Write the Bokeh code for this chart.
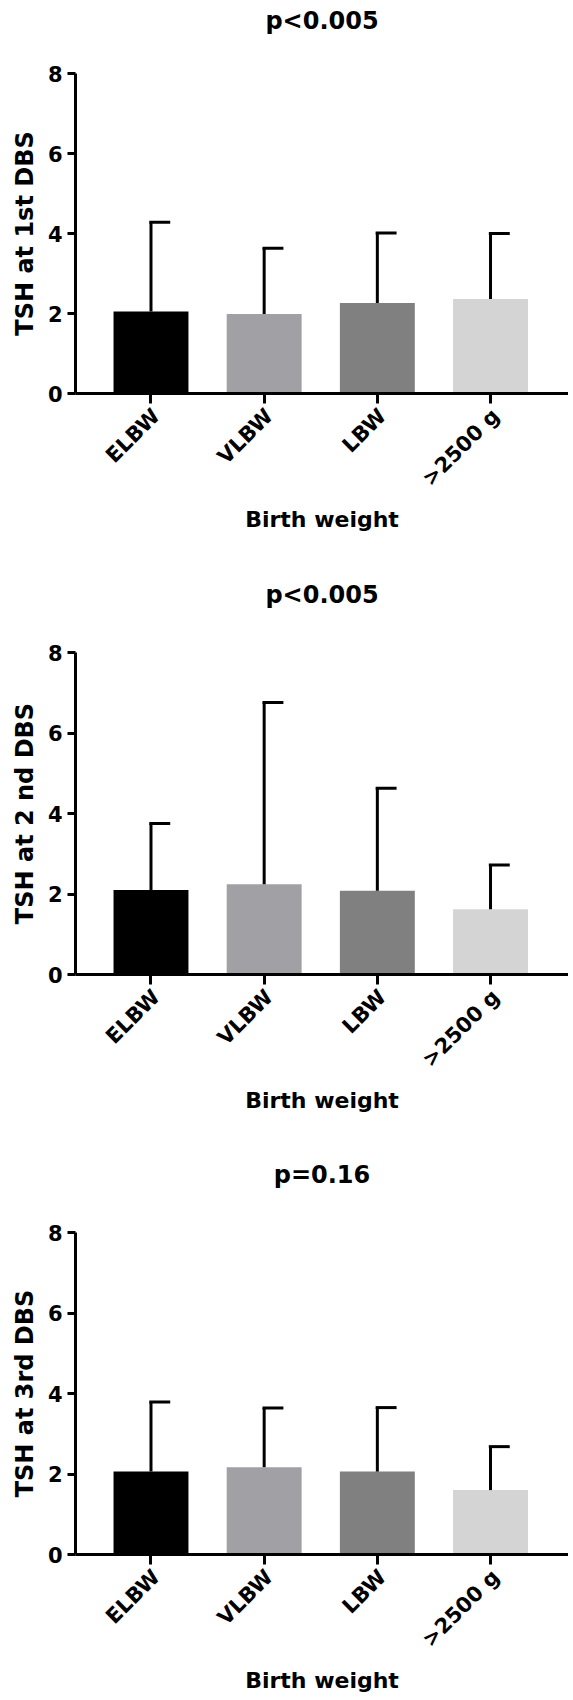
import math
from bokeh.plotting import figure
from bokeh.models import Range1d, FixedTicker, ColumnDataSource, LinearAxis
from bokeh.layouts import column
from bokeh.embed import file_html
from bokeh.resources import INLINE

categories = ["ELBW", "VLBW", "LBW", ">2500 g"]
bar_colors = ["#000000", "#a1a1a5", "#808080", "#d4d4d4"]
titles = ["p<0.005", "p<0.005", "p=0.16"]
y_labels = ["TSH at 1st DBS", "TSH at 2 nd DBS", "TSH at 3rd DBS"]
x_label = "Birth weight"
y_ticks = [0, 2, 4, 6, 8]

mean_dbs1 = [2.05, 1.99, 2.26, 2.36]
upper_dbs1 = [4.28, 3.63, 4.01, 4.00]
mean_dbs2 = [2.10, 2.24, 2.08, 1.62]
upper_dbs2 = [3.75, 6.76, 4.63, 2.72]
mean_dbs3 = [2.06, 2.17, 2.06, 1.60]
upper_dbs3 = [3.79, 3.64, 3.65, 2.68]

means = [mean_dbs1, mean_dbs2, mean_dbs3]
uppers = [upper_dbs1, upper_dbs2, upper_dbs3]

FONT = "DejaVu Sans"
heights = [570, 580, 549]
tops = [73, 82, 82]
frame_h = [320, 322, 322]
title_standoff = [39, 44, 44]
X0, X1 = 0.333, 4.689
LABEL_SHIFT = 0.045

xs = list(range(1, len(categories) + 1))


def style_text_axis(ax, size):
    ax.axis_label_text_font = FONT
    ax.axis_label_text_font_style = "bold"
    ax.axis_label_text_font_size = size
    ax.axis_label_text_color = "black"


figs = []
for k in range(3):
    p = figure(width=568, height=heights[k], output_backend="svg", toolbar_location=None,
               x_range=Range1d(X0, X1), y_range=Range1d(0, 8),
               x_axis_location=None,
               min_border_left=75, min_border_right=0,
               min_border_top=tops[k], min_border_bottom=heights[k] - tops[k] - frame_h[k])
    p.extra_x_ranges = {"labels": Range1d(X0 - LABEL_SHIFT, X1 - LABEL_SHIFT)}
    src = ColumnDataSource(dict(
        x=xs, mean=means[k], upper=uppers[k], color=bar_colors,
        cap0=[v - 0.015 for v in xs], cap1=[v + 0.17 for v in xs]))
    p.vbar(x="x", top="mean", bottom=0, width=0.662, fill_color="color",
           line_color=None, source=src)
    p.segment(x0="x", y0="mean", x1="x", y1="upper", line_width=3,
              line_color="black", source=src)
    p.segment(x0="cap0", y0="upper", x1="cap1", y1="upper", line_width=3,
              line_color="black", source=src)

    # the built-in title is unused (kept out of the layout)
    p.title.visible = False
    p.title.standoff = 0
    p.title.text_font_size = "1px"

    p.xgrid.visible = False
    p.ygrid.visible = False
    p.outline_line_color = None

    # panel title as the label of a bare axis above the frame
    ta = LinearAxis(ticker=FixedTicker(ticks=[]), axis_line_color=None,
                    major_tick_out=0, major_tick_in=0, minor_tick_out=0, minor_tick_in=0,
                    major_tick_line_color=None, minor_tick_line_color=None,
                    major_label_standoff=0,
                    axis_label=titles[k], axis_label_standoff=title_standoff[k])
    style_text_axis(ta, "24px")
    p.add_layout(ta, "above")

    # x axis: labels sit slightly right of the tick marks, as in the original;
    # tick marks are drawn as the ticker's minor ticks at the category centres
    la = LinearAxis(x_range_name="labels",
                    ticker=FixedTicker(ticks=xs, minor_ticks=[v - LABEL_SHIFT for v in xs]),
                    axis_line_width=3, axis_line_color="black",
                    major_tick_line_color=None, major_tick_out=10, major_tick_in=0,
                    minor_tick_line_color="black", minor_tick_line_width=3,
                    minor_tick_out=10, minor_tick_in=0)
    la.major_label_overrides = {x: c for x, c in zip(xs, categories)}
    la.major_label_orientation = math.pi / 4
    la.major_label_text_font = FONT
    la.major_label_text_font_style = "bold"
    la.major_label_text_font_size = "21px"
    la.major_label_text_color = "black"
    la.major_label_standoff = 9
    la.axis_label = x_label
    style_text_axis(la, "22px")
    la.axis_label_standoff = 5
    p.add_layout(la, "below")

    ya = p.yaxis[0]
    ya.ticker = FixedTicker(ticks=y_ticks)
    ya.major_tick_out = 8
    ya.major_tick_in = 0
    ya.minor_tick_line_color = None
    ya.axis_line_width = 3
    ya.major_tick_line_width = 3
    ya.major_label_text_font = FONT
    ya.major_label_text_font_style = "bold"
    ya.major_label_text_font_size = "21px"
    ya.major_label_text_color = "black"
    ya.major_label_standoff = 5
    ya.axis_label = y_labels[k]
    style_text_axis(ya, "24px")
    ya.axis_label_standoff = 6
    figs.append(p)

layout = column(*figs, spacing=0)
open("out.html", "w").write(file_html(layout, INLINE))
